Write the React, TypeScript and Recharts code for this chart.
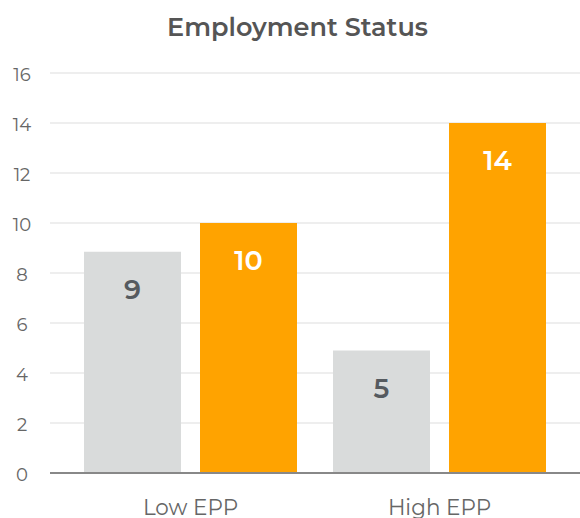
import { Bar, BarChart, CartesianGrid, LabelList, XAxis, YAxis } from "recharts"

const categories = ["Low EPP", "High EPP"]
const greyValues = [8.85, 4.9]
const orangeValues = [10, 14]
const yTicks = [0, 2, 4, 6, 8, 10, 12, 14, 16]

const data = categories.map((name, i) => ({
  name,
  grey: greyValues[i],
  orange: orangeValues[i],
}))

const font = "Montserrat, 'Open Sans', sans-serif"

const YTick = (props: any) => {
  const { y, payload } = props
  return (
    <text x={22} y={y} dy={8} textAnchor="middle" fontSize={18} fill="#666" fontFamily={font} fontWeight={400}>
      {payload.value}
    </text>
  )
}

export default function App() {
  return (
    <div style={{ position: "absolute", left: 0, top: 0, width: 580, height: 518, background: "#fff" }}>
      <div
        style={{
          position: "absolute",
          top: 11,
          left: 0,
          width: 595,
          textAlign: "center",
          fontFamily: font,
          fontWeight: 600,
          fontSize: 25.5,
          color: "#555",
        }}
      >
        Employment Status
      </div>
      <BarChart
        width={580}
        height={518}
        data={data}
        margin={{ top: 73, right: 0, left: 0, bottom: 0 }}
        barGap={19}
        barSize={97}
      >
        <CartesianGrid vertical={false} stroke="#dddddd" />
        <XAxis
          dataKey="name"
          height={45}
          padding={{ left: 16, right: 16 }}
          axisLine={{ stroke: "#888", strokeWidth: 2 }}
          tickLine={false}
          tick={{ fontSize: 21.5, fill: "#666", fontFamily: font }}
          tickMargin={21}
        />
        <YAxis
          width={50}
          domain={[0, 16]}
          ticks={yTicks}
          axisLine={false}
          tickLine={false}
          tick={YTick}
        />
        <Bar dataKey="grey" fill="#d9dbdb" isAnimationActive={false}>
          <LabelList
            dataKey="grey"
            position="insideTop"
            offset={28}
            formatter={(v: any) => Math.round(v)}
            style={{ fontSize: 27, fontWeight: 600, fill: "#555a5f", fontFamily: font }}
          />
        </Bar>
        <Bar dataKey="orange" fill="#ffa300" isAnimationActive={false}>
          <LabelList
            dataKey="orange"
            position="insideTop"
            offset={28}
            formatter={(v: any) => Math.round(v)}
            style={{ fontSize: 27, fontWeight: 600, fill: "#ffffff", fontFamily: font }}
          />
        </Bar>
      </BarChart>
    </div>
  )
}
